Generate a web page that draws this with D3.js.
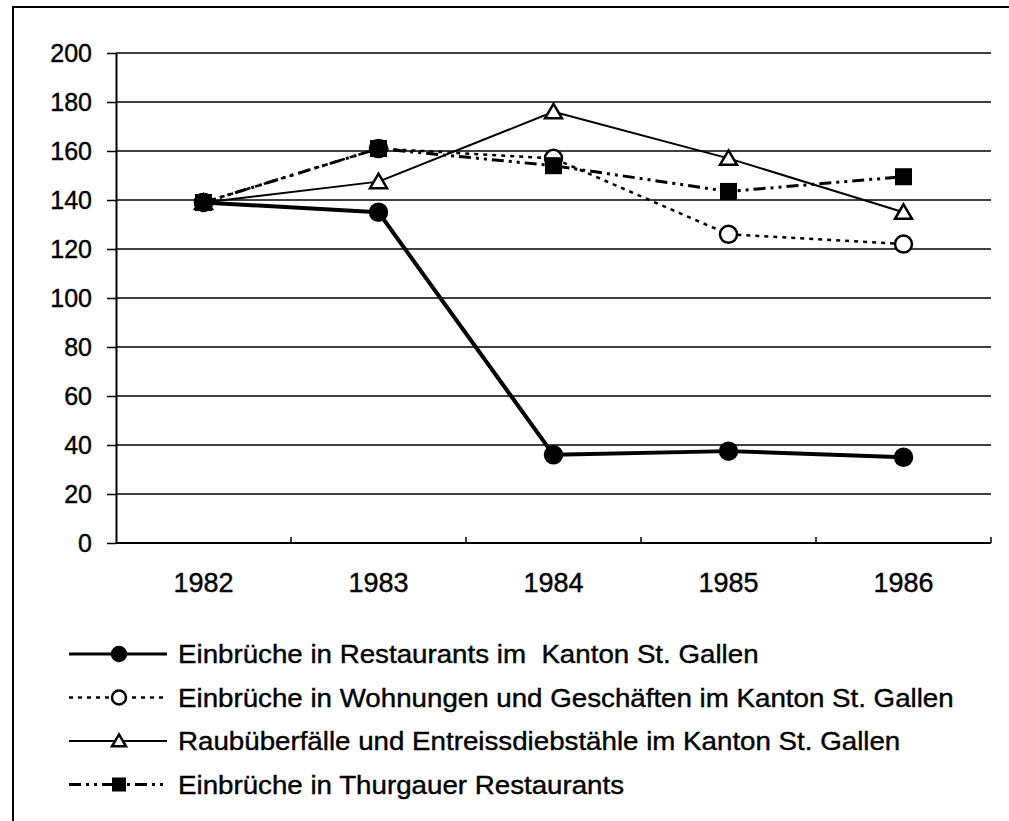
<!DOCTYPE html>
<html>
<head>
<meta charset="utf-8">
<script src="https://cdn.jsdelivr.net/npm/d3@7"></script>
<style>
  html, body { margin: 0; padding: 0; background: #fff; }
  svg { display: block; font-family: "Liberation Sans", Arial, sans-serif; }
</style>
</head>
<body>
<div id="chart"></div>
<script>
// Kriminalstatistik St. Gallen / Thurgau 1982-1986 (Indexwerte)

const years = ['1982', '1983', '1984', '1985', '1986'];
const restaurantsSG = [139, 135, 36, 37.5, 35];
const wohnungenSG = [139, 161, 157, 126, 122];
const raubSG = [139, 147.5, 176, 157, 135];
const restaurantsTG = [139, 161, 154, 143.5, 149.5];
const yTicks = [0, 20, 40, 60, 80, 100, 120, 140, 160, 180, 200];
const seriesNames = [
    'Einbrüche in Restaurants im  Kanton St. Gallen',
    'Einbrüche in Wohnungen und Geschäften im Kanton St. Gallen',
    'Raubüberfälle und Entreissdiebstähle im Kanton St. Gallen',
    'Einbrüche in Thurgauer Restaurants'
];

const W = 1009, H = 821;
const plot = { left: 116, right: 991, top: 53, bottom: 543 };

// line + marker styles per series
const styles = [
    { width: 4, dash: null, marker: 'circle', fill: '#000' },
    { width: 2.5, dash: '4,5', marker: 'circle', fill: '#fff' },
    { width: 2, dash: null, marker: 'triangle', fill: '#fff' },
    { width: 3, dash: '12,5,3,5,3,5', marker: 'square', fill: '#000' }
];
const series = [restaurantsSG, wohnungenSG, raubSG, restaurantsTG];

const svg = d3.select('#chart').append('svg')
    .attr('width', W)
    .attr('height', H);

svg.append('rect').attr('width', W).attr('height', H).attr('fill', '#fff');

// outer frame (left + top only visible)
svg.append('path')
    .attr('d', `M 13 ${H} L 13 7 L ${W} 7`)
    .attr('fill', 'none')
    .attr('stroke', '#000')
    .attr('stroke-width', 2);

const x = d3.scaleBand().domain(years).range([plot.left, plot.right]);
const y = d3.scaleLinear().domain([0, 200]).range([plot.bottom, plot.top]);

// gridlines
svg.append('g').selectAll('line')
    .data(yTicks.filter(t => t > 0))
    .enter().append('line')
    .attr('x1', plot.left).attr('x2', plot.right)
    .attr('y1', d => y(d)).attr('y2', d => y(d))
    .attr('stroke', '#000')
    .attr('stroke-width', 1.5);

// y axis
const yAxis = svg.append('g')
    .attr('transform', `translate(${plot.left},0)`)
    .call(d3.axisLeft(y).tickValues(yTicks).tickSize(9).tickSizeOuter(0).tickPadding(15));
yAxis.select('.domain').attr('stroke', '#000').attr('stroke-width', 2);
yAxis.selectAll('.tick line').attr('stroke', '#000').attr('stroke-width', 1.5);
yAxis.selectAll('.tick text')
    .attr('font-size', 25)
    .attr('fill', '#000')
    .attr('stroke', '#000')
    .attr('stroke-width', 0.4)
    .attr('font-family', '"Liberation Sans", Arial, sans-serif');

// x axis line + inward ticks on category boundaries
svg.append('line')
    .attr('x1', plot.left).attr('x2', plot.right)
    .attr('y1', plot.bottom).attr('y2', plot.bottom)
    .attr('stroke', '#000').attr('stroke-width', 2);
svg.append('g').selectAll('line')
    .data(years)
    .enter().append('line')
    .attr('x1', d => x(d) + x.bandwidth()).attr('x2', d => x(d) + x.bandwidth())
    .attr('y1', plot.bottom).attr('y2', plot.bottom - 6)
    .attr('stroke', '#000').attr('stroke-width', 1.5);
svg.append('g').selectAll('text')
    .data(years)
    .enter().append('text')
    .attr('x', d => x(d) + x.bandwidth() / 2)
    .attr('y', 592)
    .attr('text-anchor', 'middle')
    .attr('font-size', 27)
    .attr('fill', '#000')
    .attr('stroke', '#000')
    .attr('stroke-width', 0.4)
    .text(d => d);

function drawMarker(g, type, cx, cy, size, fill) {
    if (type === 'circle') {
        g.append('circle')
            .attr('cx', cx).attr('cy', cy).attr('r', size / 2)
            .attr('fill', fill).attr('stroke', '#000').attr('stroke-width', 2.5);
    } else if (type === 'square') {
        g.append('rect')
            .attr('x', cx - size / 2).attr('y', cy - size / 2)
            .attr('width', size).attr('height', size)
            .attr('fill', fill);
    } else {
        const h = size * 0.85;
        g.append('path')
            .attr('d', `M ${cx} ${cy - h * 0.55} L ${cx + size / 2} ${cy + h * 0.45} L ${cx - size / 2} ${cy + h * 0.45} Z`)
            .attr('fill', fill).attr('stroke', '#000').attr('stroke-width', 2.5)
            .attr('stroke-linejoin', 'miter');
    }
}

const line = d3.line()
    .x((d, i) => x(years[i]) + x.bandwidth() / 2)
    .y(d => y(d));

// series lines and markers
series.forEach((vals, si) => {
    const st = styles[si];
    const g = svg.append('g').attr('class', 'series');
    g.append('path')
        .attr('d', line(vals))
        .attr('fill', 'none')
        .attr('stroke', '#000')
        .attr('stroke-width', st.width)
        .attr('stroke-dasharray', st.dash)
        .attr('stroke-linejoin', 'round');
    vals.forEach((v, i) => {
        drawMarker(g, st.marker, x(years[i]) + x.bandwidth() / 2, y(v), 17, st.fill);
    });
});

// legend (scanned original text is a bit wider than Arial)
const legendRows = [654, 697.5, 741, 784.5];
const legend = svg.append('g');
seriesNames.forEach((name, si) => {
    const st = styles[si];
    const cy = legendRows[si];
    legend.append('line')
        .attr('x1', 69).attr('x2', 167)
        .attr('y1', cy).attr('y2', cy)
        .attr('stroke', '#000')
        .attr('stroke-width', Math.min(st.width, 3))
        .attr('stroke-dasharray', st.dash);
    drawMarker(legend, st.marker, 119, cy, 14, st.fill);
    legend.append('text')
        .attr('transform', `translate(178,${cy + 9}) scale(1.066,1)`)
        .attr('font-size', 26)
        .attr('fill', '#000')
        .attr('stroke', '#000')
        .attr('stroke-width', 0.4)
        .style('white-space', 'pre')
        .text(name);
});
</script>
</body>
</html>
